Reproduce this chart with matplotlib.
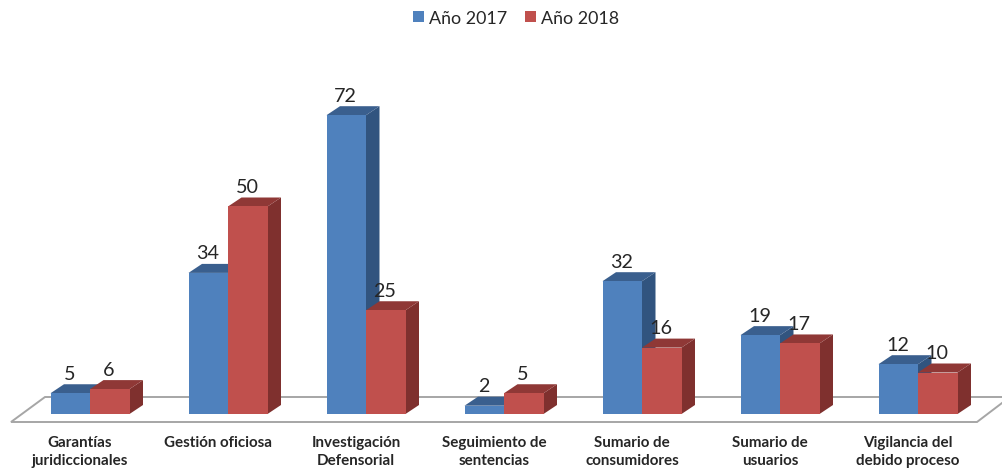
import matplotlib
matplotlib.use("Agg")
import matplotlib.pyplot as plt
from matplotlib.patches import Polygon, Rectangle

categories = ["Garantías\njuridiccionales", "Gestión oficiosa", "Investigación\nDefensorial",
              "Seguimiento de\nsentencias", "Sumario de\nconsumidores", "Sumario de\nusuarios",
              "Vigilancia del\ndebido proceso"]
y2017 = [5, 34, 72, 2, 32, 19, 12]
y2018 = [6, 50, 25, 5, 16, 17, 10]
series_names = ["Año 2017", "Año 2018"]

W, H = 1002, 472
FONT = "Lato"
fig = plt.figure(figsize=(W / 100, H / 100), dpi=100)
ax = fig.add_axes([0, 0, 1, 1])

# scale: one category = 138 px, one value unit = 4.15 px
PX_X, PX_Y, X0, Y0 = 138.0, 4.15, 90.0, 414.0
ax.set_xlim(-X0 / PX_X, (W - X0) / PX_X)
ax.set_ylim((Y0 - H) / PX_Y, Y0 / PX_Y)
ax.axis("off")

bw = 39.5 / PX_X
dx = 13.5 / PX_X
dy = 9 / PX_Y

# floor outline
floor_x = [(1002 - X0) / PX_X, (45 - X0) / PX_X, (11 - X0) / PX_X, (977 - X0) / PX_X, (1002 - X0) / PX_X]
floor_y = [(Y0 - 397) / PX_Y, (Y0 - 397) / PX_Y, (Y0 - 422) / PX_Y, (Y0 - 422) / PX_Y, (Y0 - 403) / PX_Y]
ax.plot(floor_x, floor_y, color="#a6a6a6", lw=1.4, solid_joinstyle="miter", zorder=1)


def bar3d(x, v, front, top, side, z):
    ax.add_patch(Polygon([(x + bw, 0), (x + bw + dx, dy), (x + bw + dx, v + dy), (x + bw, v)],
                         fc=side, ec="none", zorder=z))
    ax.add_patch(Polygon([(x, v), (x + dx, v + dy), (x + bw + dx, v + dy), (x + bw, v)],
                         fc=top, ec="none", zorder=z))
    ax.add_patch(Rectangle((x, 0), bw, v, fc=front, ec="none", zorder=z + 0.1))


lab_dy = 10.5 / PX_Y
for i, (a, b) in enumerate(zip(y2017, y2018)):
    bar3d(i - bw, a, "#4f81bd", "#3a5f8e", "#31547f", 2 + i)
    bar3d(i, b, "#c0504d", "#8f3836", "#7f302e", 2.5 + i)
    ax.text(i - bw + 19 / PX_X, a + lab_dy, str(a), ha="center", va="bottom",
            fontsize=14.2, family=FONT, color="#262626", zorder=20)
    ax.text(i + 19 / PX_X, b + lab_dy, str(b), ha="center", va="bottom",
            fontsize=14.2, family=FONT, color="#262626", zorder=20)
    ax.text(i - 10 / PX_X, (Y0 - 436) / PX_Y, categories[i], ha="center", va="top", fontsize=10.9,
            fontweight="bold", family=FONT, color="#262626", linespacing=1.4)

# legend
leg = [(413, "#4f81bd"), (525, "#c0504d")]
for name, (px, col) in zip(series_names, leg):
    ax.add_patch(Rectangle(((px - X0) / PX_X, (Y0 - 22) / PX_Y), 11 / PX_X, 11 / PX_Y, fc=col, ec="none"))
    ax.text((px + 16 - X0) / PX_X, (Y0 - 18.5) / PX_Y, name, ha="left", va="center", fontsize=12.9,
            family=FONT, color="#262626")

fig.savefig("out.png", dpi=100, facecolor="white")
